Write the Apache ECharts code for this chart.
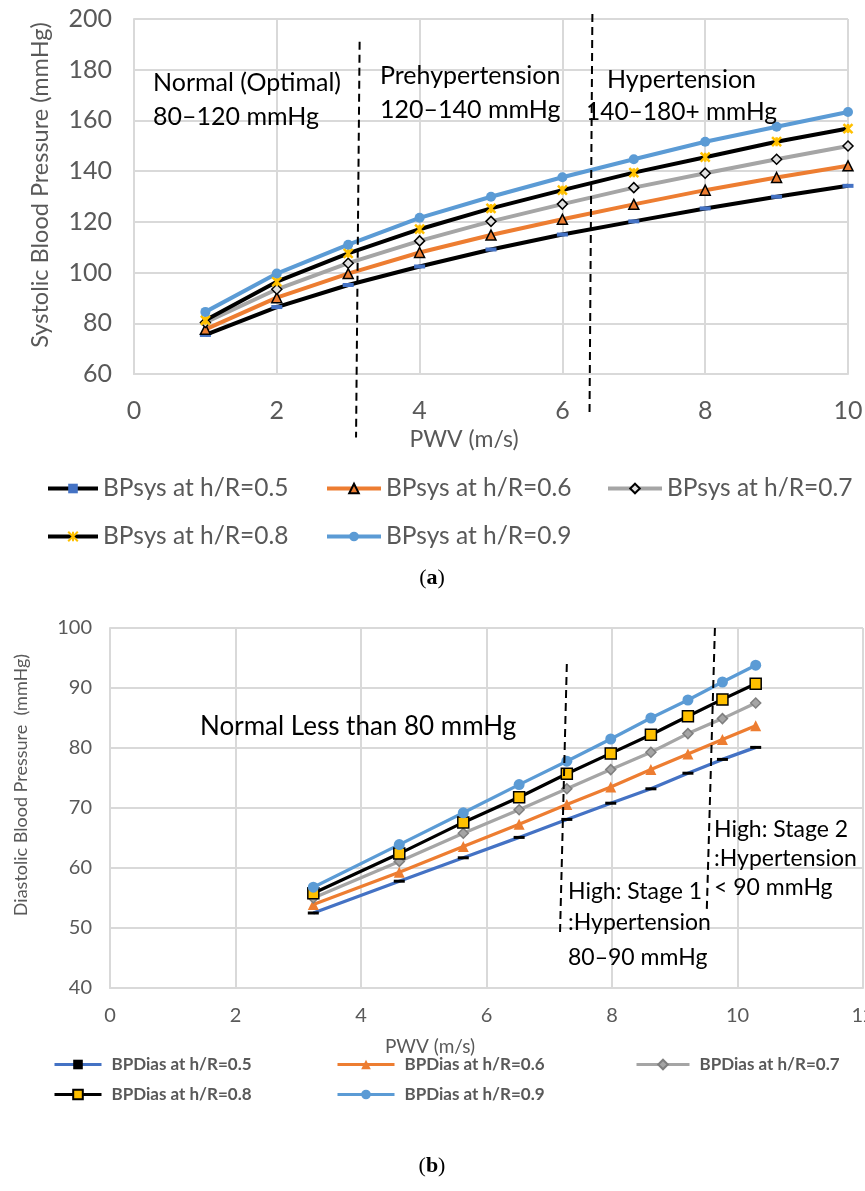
<!DOCTYPE html>
<html>
<head>
<meta charset="utf-8">
<script src="https://cdn.jsdelivr.net/npm/echarts@6/dist/echarts.min.js"></script>
<style>
    html, body { margin: 0; padding: 0; background: #fff; }
    #main { width: 865px; height: 1191px; }
</style>
</head>
<body>
<div id="main"></div>
<script>
(function () {
    'use strict';

    // (a) systolic
    var pwvSys = [1, 2, 3, 4, 5, 6, 7, 8, 9, 10];
    var sys05 = [75.4, 86.4, 95.1, 102.4, 109.1, 115.0, 120.2, 125.3, 129.9, 134.2];
    var sys06 = [77.6, 90.1, 99.6, 107.9, 114.8, 121.0, 126.9, 132.5, 137.5, 142.1];
    var sys07 = [80.3, 93.4, 103.7, 112.5, 120.2, 127.0, 133.5, 139.2, 144.7, 149.9];
    var sys08 = [81.2, 96.4, 107.6, 117.1, 125.3, 132.5, 139.4, 145.5, 151.6, 156.8];
    var sys09 = [84.5, 99.6, 111.0, 121.6, 129.9, 137.6, 144.7, 151.6, 157.5, 163.3];
    var sysNames = ['BPsys at h/R=0.5', 'BPsys at h/R=0.6', 'BPsys at h/R=0.7', 'BPsys at h/R=0.8', 'BPsys at h/R=0.9'];

    // (b) diastolic
    var pwvDias = [3.24, 4.61, 5.63, 6.52, 7.28, 7.98, 8.62, 9.21, 9.76, 10.29];
    var dias05 = [52.5, 57.8, 61.7, 65.1, 68.1, 70.8, 73.2, 75.8, 78.1, 80.1];
    var dias06 = [53.9, 59.3, 63.6, 67.3, 70.6, 73.5, 76.4, 79.0, 81.4, 83.7];
    var dias07 = [55.0, 61.1, 65.8, 69.7, 73.2, 76.4, 79.3, 82.4, 84.9, 87.5];
    var dias08 = [55.8, 62.4, 67.6, 71.8, 75.7, 79.1, 82.2, 85.3, 88.1, 90.7];
    var dias09 = [56.8, 63.9, 69.2, 73.9, 77.8, 81.5, 85.0, 88.0, 91.0, 93.8];
    var diasNames = ['BPDias at h/R=0.5', 'BPDias at h/R=0.6', 'BPDias at h/R=0.7', 'BPDias at h/R=0.8', 'BPDias at h/R=0.9'];

    var FONT = 'Lato, "Open Sans", sans-serif';
    var GREY = '#595959';
    var GRIDC = '#D9D9D9';
    var X_MARK = 'path://M0,0 L10,10 M10,0 L0,10 M5,0 L5,10';

    function pairs(xs, ys) {
        var out = [];
        for (var i = 0; i < xs.length; i++) {
            out.push([xs[i], ys[i]]);
        }
        return out;
    }

    function line(name, idx, xs, ys, lineColor, width, symbol, size, item) {
        return {
            name: name,
            type: 'line',
            xAxisIndex: idx,
            yAxisIndex: idx,
            data: pairs(xs, ys),
            symbol: symbol,
            symbolSize: size,
            showSymbol: true,
            lineStyle: { color: lineColor, width: width },
            itemStyle: item,
            z: 3
        };
    }

    function legendItem(name, left, top, fontSize, bold, iconW, lineW, pad) {
        return {
            data: [name],
            left: left,
            top: top,
            itemWidth: iconW,
            itemHeight: 12,
            itemGap: 0,
            lineStyle: { width: lineW },
            textStyle: {
                fontFamily: FONT, fontSize: fontSize, color: GREY,
                fontWeight: bold ? 'bold' : 'normal', padding: [0, 0, 0, pad]
            },
            selectedMode: false
        };
    }

    function valueAxis(gi, min, max, step, fontSize, margin) {
        return {
            type: 'value', gridIndex: gi, min: min, max: max, interval: step,
            axisLine: { show: true, lineStyle: { color: GRIDC, width: 2 } },
            axisTick: { show: false },
            axisLabel: { fontSize: fontSize, color: GREY, margin: margin, fontFamily: FONT },
            splitLine: { lineStyle: { color: GRIDC, width: 2 } }
        };
    }

    var myChart = echarts.init(document.getElementById('main'));

    myChart.setOption({
        animation: false,
        backgroundColor: '#fff',
        textStyle: { fontFamily: FONT },
        grid: [
            { left: 134, right: 17, top: 19, height: 355, outerBoundsMode: 'none' },
            { left: 110, right: 2, top: 628, height: 360, outerBoundsMode: 'none' }
        ],
        xAxis: [valueAxis(0, 0, 10, 2, 25, 24), valueAxis(1, 0, 12, 2, 20, 18)],
        yAxis: [valueAxis(0, 60, 200, 20, 25, 22), valueAxis(1, 40, 100, 10, 20, 18)],
        legend: [
            legendItem(sysNames[0], 41, 471, 24.5, false, 50, 4, 0),
            legendItem(sysNames[1], 320, 471, 24.5, false, 54, 4, 0),
            legendItem(sysNames[2], 601, 471, 24.5, false, 54, 4, 0),
            legendItem(sysNames[3], 41, 519, 24.5, false, 50, 4, 0),
            legendItem(sysNames[4], 320, 519, 24.5, false, 54, 4, 0),
            legendItem(diasNames[0], 48, 1051, 17, true, 47, 3, 5),
            legendItem(diasNames[1], 331, 1051, 17, true, 57, 3, 5),
            legendItem(diasNames[2], 630, 1051, 17, true, 53, 3, 5),
            legendItem(diasNames[3], 48, 1081, 17, true, 47, 3, 5),
            legendItem(diasNames[4], 331, 1081, 17, true, 57, 3, 5)
        ],
        series: [
            line(sysNames[0], 0, pwvSys, sys05, '#000', 4, 'rect', [11, 4], { color: '#4472C4' }),
            line(sysNames[1], 0, pwvSys, sys06, '#ED7D31', 4, 'triangle', 10, { color: '#ED7D31', borderColor: '#000', borderWidth: 1.5 }),
            line(sysNames[2], 0, pwvSys, sys07, '#A5A5A5', 4, 'diamond', 10, { color: '#E0E0E0', borderColor: '#000', borderWidth: 1.5 }),
            line(sysNames[3], 0, pwvSys, sys08, '#000', 4, X_MARK, 9, { color: '#FFC000', borderColor: '#FFC000', borderWidth: 2.5 }),
            line(sysNames[4], 0, pwvSys, sys09, '#5B9BD5', 4, 'circle', 10, { color: '#5B9BD5' }),
            line(diasNames[0], 1, pwvDias, dias05, '#4472C4', 3.25, 'rect', [11, 3], { color: '#000' }),
            line(diasNames[1], 1, pwvDias, dias06, '#ED7D31', 3.25, 'triangle', 11, { color: '#ED7D31' }),
            line(diasNames[2], 1, pwvDias, dias07, '#A5A5A5', 3.25, 'diamond', 10, { color: '#A5A5A5', borderColor: '#7F7F7F', borderWidth: 1.5 }),
            line(diasNames[3], 1, pwvDias, dias08, '#000', 3.25, 'rect', 11, { color: '#FFC000', borderColor: '#000', borderWidth: 1.5 }),
            line(diasNames[4], 1, pwvDias, dias09, '#5B9BD5', 3.25, 'circle', 11, { color: '#5B9BD5' })
        ]
    });

    // dashed zone separators, in data coordinates [x1, y1, x2, y2]
    var sysDivs = [[3.16, 191, 3.11, 35], [6.42, 202, 6.38, 45]];
    var diasDivs = [[7.28, 94, 7.17, 48.5], [9.64, 100, 9.51, 52.8]];

    var graphics = [];
    function addDivs(divs, gi) {
        for (var i = 0; i < divs.length; i++) {
            var p1 = myChart.convertToPixel({ gridIndex: gi }, [divs[i][0], divs[i][1]]);
            var p2 = myChart.convertToPixel({ gridIndex: gi }, [divs[i][2], divs[i][3]]);
            graphics.push({
                type: 'line', z: 10,
                shape: { x1: p1[0], y1: p1[1], x2: p2[0], y2: p2[1] },
                style: { stroke: '#000', lineWidth: 2, lineDash: [8, 5] }
            });
        }
    }
    addDivs(sysDivs, 0);
    addDivs(diasDivs, 1);

    function label(txt, x, y, size) {
        graphics.push({
            type: 'text', x: x, y: y, z: 11,
            style: { text: txt, fontFamily: FONT, fontSize: size, fill: '#000', verticalAlign: 'middle' }
        });
    }
    label('Normal (Optimal)', 153, 83, 25);
    label('80\u2013120 mmHg', 153, 117, 25);
    label('Prehypertension', 380, 76, 25);
    label('120\u2013140 mmHg', 380, 110, 25);
    label('Hypertension', 607, 80, 25);
    label('140\u2013180+ mmHg', 586, 112, 24.5);

    label('Normal Less than 80 mmHg', 200, 727, 26);
    label('High: Stage 1', 568, 892, 23);
    label(':Hypertension', 568, 923, 23);
    label('80\u201390 mmHg', 568, 958, 23);
    label('High: Stage 2', 714, 830, 23);
    label(':Hypertension', 714, 859, 23);
    label('< 90 mmHg', 714, 888, 23);

    function axisTitle(txt, x, y, size, vertical) {
        graphics.push({
            type: 'text', x: x, y: y, z: 11, rotation: vertical ? Math.PI / 2 : 0,
            style: { text: txt, fontFamily: FONT, fontSize: size, fill: GREY, align: 'center', verticalAlign: 'middle' }
        });
    }
    axisTitle('Systolic Blood Pressure (mmHg)', 40, 185, 23.5, true);
    axisTitle('PWV (m/s)', 464, 440, 23, false);
    axisTitle('Diastolic Blood Pressure  (mmHg)', 21, 785, 18, true);
    axisTitle('PWV (m/s)', 430, 1047, 19, false);

    function caption(letter, y) {
        graphics.push({
            type: 'text', x: 432, y: y, z: 11,
            style: {
                text: '{n|(}{b|' + letter + '}{n|)}',
                align: 'center', verticalAlign: 'middle',
                rich: {
                    n: { fontFamily: '"Liberation Serif", serif', fontSize: 22, fill: '#000' },
                    b: { fontFamily: '"Liberation Serif", serif', fontSize: 22, fontWeight: 'bold', fill: '#000' }
                }
            }
        });
    }
    caption('a', 578);
    caption('b', 1166);

    myChart.setOption({ graphic: graphics });
}());
</script>
</body>
</html>
